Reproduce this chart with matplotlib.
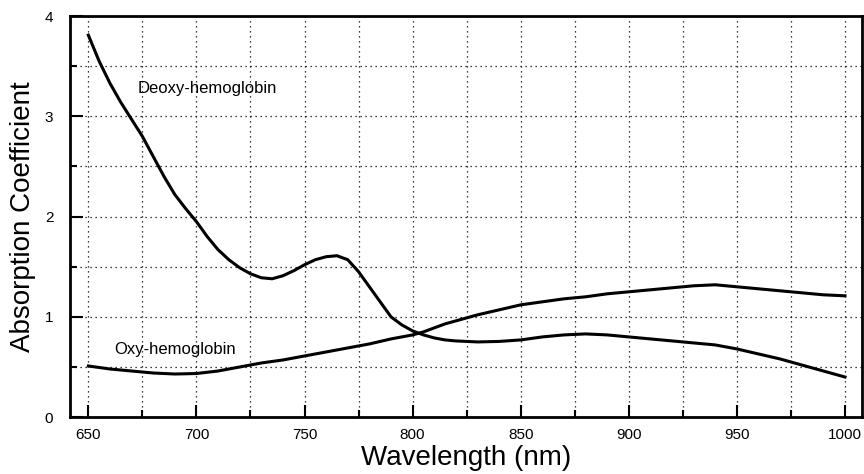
#!/usr/bin/env python
"""Absorption coefficient of deoxy- and oxy-hemoglobin vs wavelength."""
import matplotlib, numpy as np
matplotlib.use('Agg')
import matplotlib.pyplot as plt
from matplotlib.ticker import MultipleLocator

plt.rcParams['font.family'] = ['Liberation Sans', 'DejaVu Sans']

deoxy_nm = [650, 655, 660, 665, 670, 675, 680, 685, 690, 695, 700, 705, 710,
            715, 720, 725, 730, 735, 740, 745, 750, 755, 760, 765, 770, 775,
            780, 785, 790, 795, 800, 805, 810, 815, 820, 830, 840, 850, 860,
            870, 880, 890, 900, 910, 920, 930, 940, 950, 960, 970, 980, 990,
            1000]
deoxy_abs = [3.81, 3.55, 3.33, 3.14, 2.97, 2.80, 2.60, 2.40, 2.22, 2.08, 1.95,
             1.80, 1.67, 1.57, 1.49, 1.43, 1.39, 1.38, 1.41, 1.46, 1.52, 1.57,
             1.60, 1.61, 1.57, 1.45, 1.30, 1.15, 1.00, 0.92, 0.86, 0.82, 0.79,
             0.77, 0.76, 0.75, 0.755, 0.77, 0.80, 0.82, 0.83, 0.82, 0.80, 0.78,
             0.76, 0.74, 0.72, 0.68, 0.63, 0.58, 0.52, 0.46, 0.40]
oxy_nm = [650, 660, 670, 680, 690, 700, 710, 720, 730, 740, 750, 760, 770, 780,
          790, 800, 805, 810, 815, 820, 830, 840, 850, 860, 870, 880, 890, 900,
          910, 920, 930, 940, 950, 960, 970, 980, 990, 1000]
oxy_abs = [0.51, 0.48, 0.46, 0.44, 0.43, 0.435, 0.46, 0.50, 0.54, 0.57, 0.61,
           0.65, 0.69, 0.73, 0.78, 0.82, 0.85, 0.89, 0.93, 0.96, 1.02, 1.07,
           1.12, 1.15, 1.18, 1.20, 1.23, 1.25, 1.27, 1.29, 1.31, 1.32, 1.30,
           1.28, 1.26, 1.24, 1.22, 1.21]


def main():
  fig = plt.figure(figsize=(8.64, 4.74), dpi=100)
  ax = fig.add_axes([0.081, 0.12, 0.917, 0.846])
  ax.plot(deoxy_nm, deoxy_abs, color='black', lw=2.2, solid_joinstyle='round')
  ax.plot(oxy_nm, oxy_abs, color='black', lw=2.2, solid_joinstyle='round')
  ax.text(673, 3.28, 'Deoxy-hemoglobin', fontsize=12, va='center')
  ax.text(662, 0.67, 'Oxy-hemoglobin', fontsize=12, va='center')

  ax.set_xlim(641.5, 1008)
  ax.set_ylim(0, 4)
  ax.xaxis.set_major_locator(MultipleLocator(50))
  ax.xaxis.set_minor_locator(MultipleLocator(25))
  ax.yaxis.set_major_locator(MultipleLocator(1))
  ax.yaxis.set_minor_locator(MultipleLocator(0.5))
  ax.grid(which='both', color='black', ls=(0, (1, 3)), lw=0.9)
  ax.tick_params(which='both', direction='in', width=1.5, labelsize=11)
  ax.tick_params(which='major', length=9, pad=8)
  ax.tick_params(which='minor', length=5)
  ax.tick_params(axis='y', pad=12)
  for s in ax.spines.values():
    s.set_linewidth(2)
  ax.set_xlabel('Wavelength (nm)', fontsize=20, labelpad=2)
  ax.set_ylabel('Absorption Coefficient', fontsize=20, labelpad=6)
  fig.savefig('out.png', dpi=100)
  plt.close(fig)


if __name__ == '__main__':
  main()
